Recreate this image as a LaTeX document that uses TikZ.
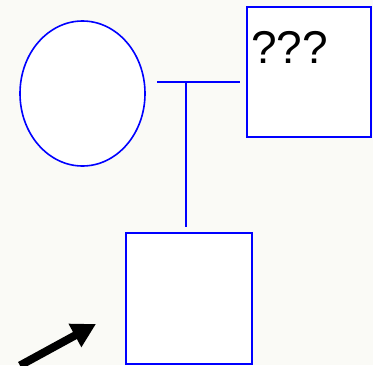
\documentclass[tikz,border=0pt]{standalone}
\usepackage{fontspec}
\setmainfont{Liberation Sans}
\usetikzlibrary{shapes.geometric,arrows.meta}
\definecolor{paper}{RGB}{250,250,246}
\definecolor{pen}{RGB}{0,0,255}
\tikzset{
  person/.style={draw=pen, fill=white, line width=1.6pt, inner sep=0pt},
  female/.style={person, ellipse, minimum width=125pt, minimum height=145pt},
  male/.style={person, rectangle, line width=2pt, minimum width=124pt, minimum height=130pt},
  link/.style={draw=pen, line width=1.6pt},
  pointer/.style={draw=black, line width=8pt, -{Triangle[length=24pt,width=25pt]}}
}
\begin{document}
\begin{tikzpicture}[x=1pt,y=-1pt]
  % page and background
  \fill[paper] (0,0) rectangle (373,365);
  \useasboundingbox (0,0) rectangle (373,365);

  % parents
  \node[female] (mother) at (82.5,93.5) {};
  \node[male] (father) at (309,71.5) {};
  \node[anchor=base west, inner sep=0pt, font=\fontsize{46}{46}\selectfont] (unknown) at (251,63) {???};

  % child
  \node[male, minimum width=126pt, minimum height=131pt] (child) at (189,298.5) {};

  % marriage line and descent line
  \coordinate (mleft) at (157,82);
  \coordinate (mright) at (240,82);
  \coordinate (drop) at (186,82);
  \coordinate (dropend) at (186,227);
  \draw[link] (mleft) -- (mright);
  \draw[link] (drop) -- (dropend);

  % pointer arrow
  \coordinate (ptail) at (20,365.5);
  \coordinate (phead) at (96,324);
  \draw[pointer] (ptail) -- (phead);
\end{tikzpicture}
\end{document}
